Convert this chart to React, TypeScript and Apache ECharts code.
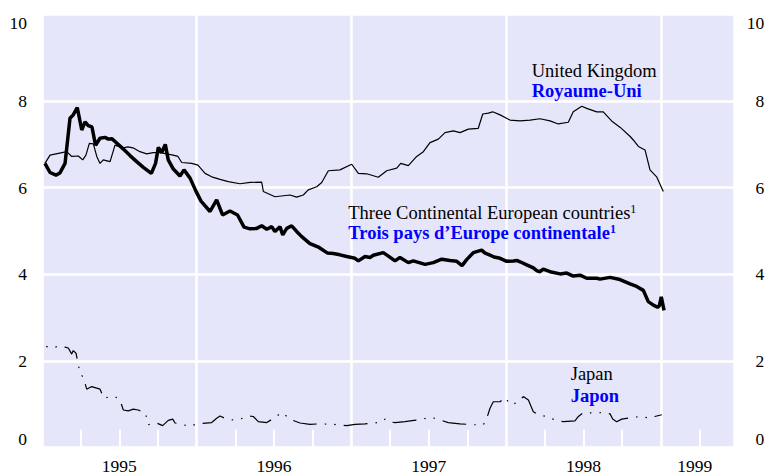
import React, { useEffect, useRef } from 'react';
import * as echarts from 'echarts';

// United Kingdom (decimal year, %)
const ukYear = [1995.019, 1995.052, 1995.160, 1995.192, 1995.235, 1995.263, 1995.284, 1995.306, 1995.332, 1995.354, 1995.375, 1995.396, 1995.440, 1995.472, 1995.504, 1995.524, 1995.556, 1995.588, 1995.633, 1995.677, 1995.718, 1995.763, 1995.806, 1995.847, 1995.879, 1995.903, 1995.968, 1996.008, 1996.054, 1996.097, 1996.151, 1996.204, 1996.280, 1996.345, 1996.420, 1996.431, 1996.506, 1996.603, 1996.646, 1996.689, 1996.721, 1996.776, 1996.808, 1996.851, 1996.926, 1997.002, 1997.045, 1997.099, 1997.174, 1997.228, 1997.293, 1997.319, 1997.368, 1997.422, 1997.465, 1997.508, 1997.562, 1997.605, 1997.659, 1997.702, 1997.756, 1997.820, 1997.849, 1997.885, 1997.913, 1997.961, 1998.025, 1998.090, 1998.155, 1998.219, 1998.284, 1998.337, 1998.402, 1998.434, 1998.489, 1998.521, 1998.586, 1998.628, 1998.682, 1998.738, 1998.802, 1998.822, 1998.855, 1998.898, 1998.930, 1998.973, 1999.016];
const ukRate = [6.56, 6.75, 6.83, 6.72, 6.73, 6.64, 6.75, 7.02, 7.01, 6.72, 6.56, 6.64, 6.60, 6.98, 6.94, 6.92, 6.94, 6.92, 6.83, 6.78, 6.81, 6.81, 6.78, 6.75, 6.72, 6.58, 6.56, 6.52, 6.33, 6.25, 6.19, 6.14, 6.09, 6.12, 6.13, 5.91, 5.79, 5.83, 5.78, 5.83, 5.95, 6.02, 6.12, 6.39, 6.41, 6.54, 6.33, 6.32, 6.24, 6.39, 6.45, 6.56, 6.51, 6.72, 6.83, 7.04, 7.12, 7.27, 7.31, 7.27, 7.35, 7.37, 7.70, 7.72, 7.75, 7.68, 7.56, 7.54, 7.56, 7.59, 7.54, 7.47, 7.51, 7.75, 7.88, 7.83, 7.75, 7.75, 7.54, 7.39, 7.18, 7.10, 6.95, 6.87, 6.41, 6.25, 5.91];

// Three Continental European countries
const contYear = [1995.019, 1995.052, 1995.090, 1995.116, 1995.149, 1995.181, 1995.202, 1995.228, 1995.257, 1995.278, 1995.299, 1995.323, 1995.346, 1995.375, 1995.407, 1995.429, 1995.451, 1995.483, 1995.526, 1995.569, 1995.612, 1995.655, 1995.707, 1995.734, 1995.752, 1995.774, 1995.797, 1995.816, 1995.849, 1995.892, 1995.918, 1995.957, 1995.995, 1996.028, 1996.086, 1996.129, 1996.167, 1996.215, 1996.264, 1996.306, 1996.345, 1996.388, 1996.420, 1996.453, 1996.485, 1996.506, 1996.538, 1996.556, 1996.582, 1996.614, 1996.646, 1996.679, 1996.732, 1996.791, 1996.846, 1996.883, 1996.926, 1996.970, 1997.023, 1997.045, 1997.088, 1997.120, 1997.142, 1997.206, 1997.239, 1997.282, 1997.314, 1997.368, 1997.400, 1997.476, 1997.529, 1997.584, 1997.637, 1997.681, 1997.715, 1997.745, 1997.788, 1997.842, 1997.864, 1997.885, 1997.922, 1997.961, 1998.004, 1998.047, 1998.069, 1998.090, 1998.133, 1998.176, 1998.200, 1998.219, 1998.240, 1998.284, 1998.348, 1998.392, 1998.434, 1998.478, 1998.521, 1998.586, 1998.607, 1998.672, 1998.736, 1998.801, 1998.844, 1998.887, 1998.919, 1998.952, 1998.979, 1998.990, 1999.003, 1999.021];
const contRate = [6.56, 6.35, 6.29, 6.34, 6.56, 7.60, 7.68, 7.85, 7.33, 7.52, 7.43, 7.40, 6.98, 7.14, 7.16, 7.12, 7.13, 7.03, 6.89, 6.74, 6.60, 6.47, 6.33, 6.56, 6.93, 6.81, 7.00, 6.64, 6.43, 6.27, 6.41, 6.22, 5.92, 5.69, 5.45, 5.72, 5.37, 5.46, 5.37, 5.09, 5.05, 5.06, 5.12, 5.04, 5.10, 4.99, 5.10, 4.91, 5.06, 5.12, 4.99, 4.87, 4.71, 4.62, 4.49, 4.48, 4.45, 4.41, 4.37, 4.31, 4.41, 4.39, 4.44, 4.50, 4.42, 4.31, 4.39, 4.27, 4.31, 4.23, 4.27, 4.35, 4.32, 4.30, 4.20, 4.34, 4.50, 4.56, 4.49, 4.46, 4.40, 4.37, 4.30, 4.31, 4.32, 4.29, 4.22, 4.15, 4.08, 4.06, 4.12, 4.06, 4.01, 4.03, 3.96, 3.98, 3.91, 3.91, 3.89, 3.93, 3.88, 3.78, 3.72, 3.63, 3.37, 3.29, 3.24, 3.27, 3.48, 3.17];

// Japan
const japanYear = [1995.015, 1995.063, 1995.116, 1995.149, 1995.170, 1995.192, 1995.202, 1995.220, 1995.228, 1995.235, 1995.246, 1995.263, 1995.278, 1995.289, 1995.321, 1995.375, 1995.401, 1995.440, 1995.472, 1995.504, 1995.526, 1995.558, 1995.590, 1995.622, 1995.666, 1995.681, 1995.687, 1995.741, 1995.780, 1995.816, 1995.845, 1995.860, 1995.903, 1995.957, 1996.000, 1996.097, 1996.129, 1996.151, 1996.194, 1996.237, 1996.280, 1996.345, 1996.366, 1996.398, 1996.453, 1996.506, 1996.549, 1996.614, 1996.668, 1996.732, 1996.797, 1996.883, 1996.970, 1997.023, 1997.088, 1997.153, 1997.196, 1997.217, 1997.239, 1997.282, 1997.346, 1997.405, 1997.465, 1997.497, 1997.540, 1997.626, 1997.702, 1997.788, 1997.853, 1997.875, 1997.896, 1997.917, 1997.961, 1997.993, 1998.014, 1998.036, 1998.079, 1998.111, 1998.144, 1998.176, 1998.208, 1998.262, 1998.316, 1998.370, 1998.445, 1998.467, 1998.499, 1998.564, 1998.628, 1998.672, 1998.689, 1998.715, 1998.747, 1998.801, 1998.866, 1998.931, 1998.961, 1999.006];
const japanRate = [2.35, 2.30, 2.35, 2.32, 2.30, 2.16, 2.24, 2.18, 2.03, 1.91, 1.72, 1.64, 1.49, 1.35, 1.41, 1.35, 1.14, 1.18, 1.18, 1.10, 0.87, 0.85, 0.89, 0.87, 0.81, 0.64, 0.53, 0.57, 0.51, 0.63, 0.66, 0.57, 0.54, 0.49, 0.55, 0.58, 0.68, 0.73, 0.66, 0.64, 0.66, 0.73, 0.72, 0.60, 0.58, 0.70, 0.81, 0.64, 0.57, 0.54, 0.55, 0.54, 0.51, 0.54, 0.55, 0.57, 0.60, 0.66, 0.60, 0.58, 0.60, 0.63, 0.66, 0.70, 0.68, 0.58, 0.55, 0.53, 0.53, 0.68, 0.91, 1.06, 1.06, 1.16, 1.06, 0.99, 1.06, 1.18, 1.10, 0.83, 0.76, 0.72, 0.64, 0.60, 0.62, 0.72, 0.81, 0.80, 0.81, 0.78, 0.66, 0.60, 0.66, 0.69, 0.72, 0.68, 0.72, 0.76];

// Axis labels
const yearLabels = ['1995', '1996', '1997', '1998', '1999'];
const yearLabelPos = [1995.5, 1996.5, 1997.5, 1998.5, 1999.22];
const quarterTicks = [1995.25, 1995.5, 1995.75, 1996.25, 1996.5, 1996.75, 1997.25, 1997.5, 1997.75, 1998.25, 1998.5, 1998.75, 1999.25];
const X_MIN = 1995;
const X_MAX = 1999.475;

const FONT = 'Liberation Serif';
const BLUE = '#0000ff';

const pairs = (xs: number[], ys: number[]) => xs.map((x, i) => [x, ys[i]]);

export default function App() {
  const ref = useRef<HTMLDivElement>(null);
  useEffect(() => {
    const chart = echarts.init(ref.current!, null, { renderer: 'svg' });
    const tickStyle = { show: true, inside: true, length: 18, lineStyle: { color: '#ffffff', width: 2 }, customValues: quarterTicks };
    const labelFont = { color: '#000', fontFamily: FONT, fontSize: 17.5 };
    chart.setOption({
      animation: false,
      backgroundColor: '#ffffff',
      textStyle: { fontFamily: FONT },
      grid: {
        left: 42, right: 34.7, top: 14.3, bottom: 28.3,
        show: true, backgroundColor: '#e6e6fa', borderWidth: 0,
        outerBoundsMode: 'none',
      },
      xAxis: [
        {
          type: 'value', min: X_MIN, max: X_MAX, interval: 0.25, position: 'bottom',
          axisLine: { show: false },
          axisTick: tickStyle,
          splitLine: { show: false },
          axisLabel: {
            show: true, margin: 10, lineHeight: 17, ...labelFont,
            customValues: yearLabelPos,
            formatter: (v: number) => {
              const i = yearLabelPos.findIndex((p) => Math.abs(p - v) < 1e-6);
              return i >= 0 ? yearLabels[i] : '';
            },
          },
        },
        {
          type: 'value', min: X_MIN, max: X_MAX, interval: 0.25, position: 'top',
          axisLine: { show: false },
          axisTick: tickStyle,
          splitLine: { show: false },
          axisLabel: { show: false },
        },
        {
          type: 'value', min: X_MIN, max: X_MAX, interval: 1, position: 'bottom',
          axisLine: { show: false },
          axisTick: { show: false },
          axisLabel: { show: false },
          splitLine: { show: true, lineStyle: { color: '#ffffff', width: 2.5 } },
        },
      ],
      yAxis: [
        {
          type: 'value', min: 0, max: 10, interval: 2, position: 'left',
          axisLine: { show: false }, axisTick: { show: false },
          splitLine: { show: true, lineStyle: { color: '#ffffff', width: 2.5 } },
          axisLabel: {
            margin: 15, ...labelFont,
            verticalAlignMaxLabel: 'top', verticalAlignMinLabel: 'bottom',
          },
        },
        {
          type: 'value', min: 0, max: 10, interval: 2, position: 'right',
          axisLine: { show: false }, axisTick: { show: false },
          splitLine: { show: false },
          axisLabel: {
            margin: 30, align: 'right', ...labelFont,
            verticalAlignMaxLabel: 'top', verticalAlignMinLabel: 'bottom',
          },
        },
      ],
      series: [
        {
          name: 'United Kingdom', type: 'line', xAxisIndex: 0, yAxisIndex: 0,
          data: pairs(ukYear, ukRate), showSymbol: false, symbol: 'none',
          lineStyle: { color: '#000', width: 1.2 },
        },
        {
          name: 'Three Continental European countries', type: 'line', xAxisIndex: 0, yAxisIndex: 0,
          data: pairs(contYear, contRate), showSymbol: false, symbol: 'none',
          lineStyle: { color: '#000', width: 3.5 },
        },
        {
          name: 'Japan', type: 'line', xAxisIndex: 0, yAxisIndex: 0,
          data: pairs(japanYear, japanRate), showSymbol: false, symbol: 'none',
          lineStyle: { color: '#000', width: 1.2, type: [24, 8, 1.5, 8, 1.5, 8], dashOffset: 30 },
        },
      ],
      graphic: [
        { type: 'text', z: 100, left: 531.7, top: 60.8, style: { text: 'United Kingdom', fill: '#000', font: `18.5px ${FONT}`, lineHeight: 20 } },
        { type: 'text', z: 100, left: 531.7, top: 81.3, style: { text: 'Royaume-Uni', fill: BLUE, font: `bold 18.5px ${FONT}`, lineHeight: 20 } },
        {
          type: 'text', z: 100, left: 348.3, top: 203.1,
          style: {
            text: '{n|Three Continental European countries}{s|1}',
            rich: {
              n: { fill: '#000', fontFamily: FONT, fontSize: 18.5, lineHeight: 20 },
              s: { fill: '#000', fontFamily: FONT, fontSize: 12, lineHeight: 12, verticalAlign: 'top' },
            },
          },
        },
        {
          type: 'text', z: 100, left: 348.3, top: 223.1,
          style: {
            text: '{n|Trois pays d\u2019Europe continentale}{s|1}',
            rich: {
              n: { fill: BLUE, fontFamily: FONT, fontSize: 18.5, fontWeight: 'bold', lineHeight: 20 },
              s: { fill: BLUE, fontFamily: FONT, fontSize: 12, fontWeight: 'bold', lineHeight: 12, verticalAlign: 'top' },
            },
          },
        },
        { type: 'text', z: 100, left: 570.7, top: 363.8, style: { text: 'Japan', fill: '#000', font: `18.5px ${FONT}`, lineHeight: 20 } },
        { type: 'text', z: 100, left: 570.7, top: 385.5, style: { text: 'Japon', fill: BLUE, font: `bold 18.5px ${FONT}`, lineHeight: 20 } },
      ],
    });
    return () => chart.dispose();
  }, []);
  return <div ref={ref} style={{ position: 'absolute', left: 0, top: 0, width: 769, height: 476 }} />;
}
